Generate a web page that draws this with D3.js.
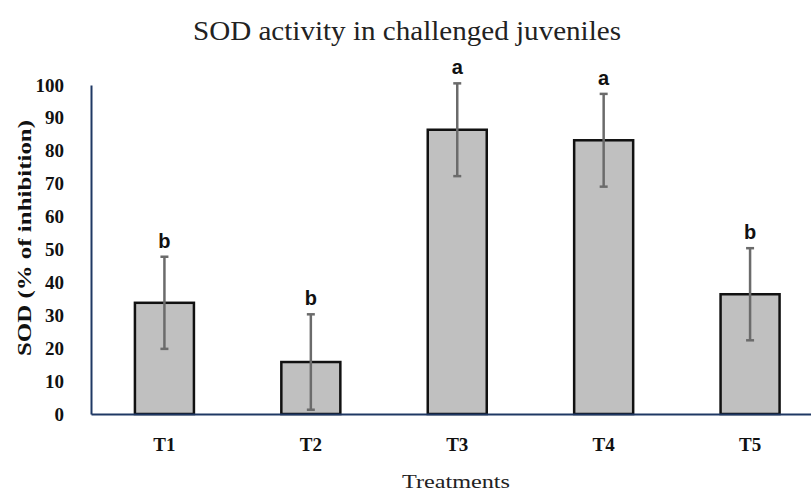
<!DOCTYPE html>
<html>
<head>
<meta charset="utf-8">
<script src="https://cdn.jsdelivr.net/npm/d3@7"></script>
<style>
  html, body { margin: 0; padding: 0; background: #fff; }
  svg { display: block; }
</style>
</head>
<body>
<div id="chart"></div>
<script>
const categories = ["T1", "T2", "T3", "T4", "T5"];
const sodValues = [33.8, 15.8, 86.4, 83.2, 36.4];
const errorValues = [14.0, 14.5, 14.1, 14.1, 14.0];
const letters = ["b", "b", "a", "a", "b"];
const yTicks = [0, 10, 20, 30, 40, 50, 60, 70, 80, 90, 100];

const W = 811, H = 493;
const svg = d3.select("#chart").append("svg").attr("width", W).attr("height", H);

const x = d3.scaleBand().domain(categories).range([91, 823.5]).paddingInner(0.597).paddingOuter(0.3);
const y = d3.scaleLinear().domain([0, 100]).range([414, 85]);

const serif = "'Liberation Serif', 'DejaVu Serif', serif";
const sans = "'Liberation Sans', Arial, sans-serif";
const axisColor = "#1f3864";

// Title
svg.append("text")
  .attr("x", 407).attr("y", 40)
  .attr("text-anchor", "middle")
  .attr("font-family", serif).attr("font-size", 27)
  .attr("textLength", 428).attr("lengthAdjust", "spacingAndGlyphs")
  .attr("fill", "#222")
  .text("SOD activity in challenged juveniles");

// Y axis
const yAxis = d3.axisLeft(y).tickValues(yTicks).tickSize(0).tickPadding(27);
const gy = svg.append("g").attr("transform", "translate(91,0)").call(yAxis);
gy.select(".domain").attr("stroke", axisColor).attr("stroke-width", 2);
gy.selectAll(".tick text")
  .attr("font-family", serif).attr("font-size", 19).attr("font-weight", "bold")
  .attr("fill", "#111");

// Bars
svg.append("g").selectAll("rect").data(categories).join("rect")
  .attr("x", d => x(d))
  .attr("y", (d, i) => y(sodValues[i]))
  .attr("width", x.bandwidth())
  .attr("height", (d, i) => y(0) - y(sodValues[i]))
  .attr("fill", "#c0c0c0")
  .attr("stroke", "#111")
  .attr("stroke-width", 2.5);

// X axis
const xAxis = d3.axisBottom(x).tickSize(0).tickPadding(24);
const gx = svg.append("g").attr("transform", "translate(0,414)").call(xAxis);
gx.select(".domain").attr("stroke", axisColor).attr("stroke-width", 2);
gx.selectAll(".tick text")
  .attr("font-family", serif).attr("font-size", 19).attr("font-weight", "bold")
  .attr("fill", "#111");

// Error bars
const eb = svg.append("g").attr("stroke", "#6b6b6b").attr("stroke-width", 2.5);
categories.forEach((c, i) => {
  const cx = x(c) + x.bandwidth() / 2;
  const top = y(sodValues[i] + errorValues[i]);
  const bot = y(sodValues[i] - errorValues[i]);
  eb.append("line").attr("x1", cx).attr("x2", cx).attr("y1", top).attr("y2", bot);
  eb.append("line").attr("x1", cx - 4).attr("x2", cx + 4).attr("y1", top).attr("y2", top);
  eb.append("line").attr("x1", cx - 4).attr("x2", cx + 4).attr("y1", bot).attr("y2", bot);
});

// Significance letters
svg.append("g").selectAll("text").data(categories).join("text")
  .attr("x", d => x(d) + x.bandwidth() / 2)
  .attr("y", (d, i) => y(sodValues[i] + errorValues[i]) - 9)
  .attr("text-anchor", "middle")
  .attr("font-family", sans).attr("font-size", 20).attr("font-weight", "bold")
  .attr("fill", "#111")
  .text((d, i) => letters[i]);

// Y axis title
svg.append("text")
  .attr("transform", "translate(31,238) rotate(-90)")
  .attr("text-anchor", "middle")
  .attr("font-family", serif).attr("font-size", 19).attr("font-weight", "bold")
  .attr("textLength", 236).attr("lengthAdjust", "spacingAndGlyphs")
  .attr("fill", "#111")
  .text("SOD (% of inhibition)");

// X axis title
svg.append("text")
  .attr("x", 456).attr("y", 488)
  .attr("text-anchor", "middle")
  .attr("font-family", serif).attr("font-size", 19)
  .attr("textLength", 108).attr("lengthAdjust", "spacingAndGlyphs")
  .attr("fill", "#222")
  .text("Treatments");
</script>
</body>
</html>
